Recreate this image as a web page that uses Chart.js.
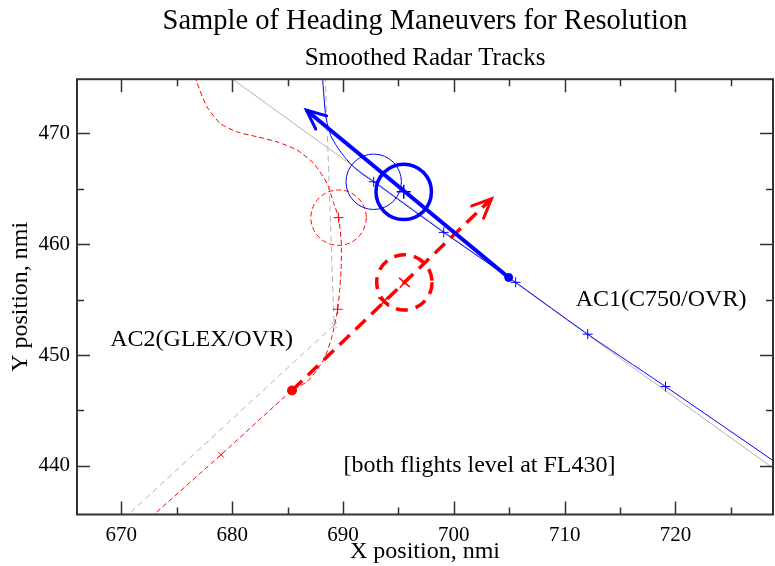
<!DOCTYPE html>
<html>
<head>
<meta charset="utf-8">
<script src="https://cdn.jsdelivr.net/npm/chart.js@4/dist/chart.umd.min.js"></script>
<style>
    body { margin: 0; background: #fff; }
    #graficoTrayectorias { display: block; }
</style>
</head>
<body>
<canvas id="graficoTrayectorias" width="775" height="566"></canvas>
<script>
// limites de los ejes (nmi)
const xMin = 666, xMax = 728.8;
const yMin = 435.6, yMax = 474.9;

// AC1 plan original (gris continuo)
const ac1PlanX = [679.9, 692.65, 729.2];
const ac1PlanY = [475.0, 465.8, 439.5];

// AC1 traza suavizada (azul fino)
const ac1TrazaX = [688.15, 688.45, 688.9, 689.47, 690.2, 690.94, 691.8, 692.77, 699.09, 705.58, 712.08, 719.1, 729.2];
const ac1TrazaY = [475.1, 471.5, 469.8, 468.8, 467.8, 466.99, 466.3, 465.64, 461.07, 456.56, 451.88, 447.15, 440.2];
const ac1MarcasX = [692.77, 699.09, 705.58, 712.08, 719.1];
const ac1MarcasY = [465.64, 461.07, 456.56, 451.88, 447.15];

// AC1 maniobra de resolucion (azul grueso)
const ac1ResX = [704.95, 686.7];
const ac1ResY = [457.0, 472.1];
const ac1CentroX = [695.48];
const ac1CentroY = [464.73];

// AC2 plan original (gris discontinuo)
const ac2PlanX = [688.4, 689.2, 670.2];
const ac2PlanY = [475.2, 452.7, 435.2];

// AC2 traza suavizada (rojo fino discontinuo)
const ac2TrazaX = [676.7, 676.82, 677.73, 678.93, 680.44, 682.25, 684.05, 685.86, 687.35, 688.56, 689.16, 689.6, 689.85, 689.83, 689.7, 689.52, 689.0, 688.4, 687.66, 686.76, 685.4, 679.0, 672.6];
const ac2TrazaY = [475.2, 474.6, 472.4, 470.9, 470.14, 469.7, 469.24, 468.5, 467.3, 465.5, 463.7, 462.4, 460.1, 457.7, 455.9, 454.13, 451.66, 449.86, 448.66, 447.6, 446.8, 441.0, 435.3];
const ac2MarcasX = [689.6, 689.52];
const ac2MarcasY = [462.4, 454.13];
const ac2AspaX = [679.0, 689.2];
const ac2AspaY = [441.0, 452.7];

// AC2 maniobra de resolucion (rojo grueso discontinuo)
const ac2ResX = [685.4, 703.4];
const ac2ResY = [446.8, 464.1];
const ac2ResMarcasX = [693.67, 695.54];
const ac2ResMarcasY = [454.8, 456.56];

// circulos de separacion
const circuloX = [692.77, 695.48, 689.6, 695.54];
const circuloY = [465.64, 464.73, 462.4, 456.56];
const circuloR = [2.5, 2.5, 2.5, 2.5];

// notas
const notaTexto = ['AC2(GLEX/OVR)', 'AC1(C750/OVR)', '[both flights level at FL430]'];
const notaX = [669.0, 711.0, 690.05];
const notaY = [451.4, 455.0, 440.0];

const AZUL = '#0000ff';
const ROJO = '#ff0000';
const GRIS = '#b4b4b4';
const FUENTE = "'Liberation Serif', 'DejaVu Serif', serif";

const puntos = (xs, ys) => xs.map((x, i) => ({x, y: ys[i]}));

const estiloCirculo = [
    {color: AZUL, ancho: 1, guion: []},
    {color: AZUL, ancho: 3.5, guion: []},
    {color: ROJO, ancho: 1, guion: [5, 3]},
    {color: ROJO, ancho: 3.5, guion: [12, 8]}
];

const decoracion = {
    id: 'decoracion',
    afterDatasetsDraw(chart) {
        const ctx = chart.ctx;
        const xs = chart.scales.x;
        const ys = chart.scales.y;
        const area = chart.chartArea;

        ctx.save();
        ctx.beginPath();
        ctx.rect(area.left, area.top, area.right - area.left, area.bottom - area.top);
        ctx.clip();

        // circulos
        circuloX.forEach((cx, i) => {
            const px = xs.getPixelForValue(cx);
            const py = ys.getPixelForValue(circuloY[i]);
            const r = Math.abs(xs.getPixelForValue(cx + circuloR[i]) - px);
            const est = estiloCirculo[i];
            ctx.beginPath();
            ctx.setLineDash(est.guion);
            ctx.lineWidth = est.ancho;
            ctx.strokeStyle = est.color;
            ctx.arc(px, py, r, 0, Math.PI * 2);
            ctx.stroke();
        });
        ctx.setLineDash([]);

        // puntas de flecha
        chart.data.datasets.forEach(ds => {
            if (!ds.punta) return;
            const n = ds.data.length;
            const a = ds.data[n - 2], b = ds.data[n - 1];
            const x1 = xs.getPixelForValue(a.x), y1 = ys.getPixelForValue(a.y);
            const x2 = xs.getPixelForValue(b.x), y2 = ys.getPixelForValue(b.y);
            const ang = Math.atan2(y2 - y1, x2 - x1);
            const largo = 21, abre = 0.42;
            ctx.beginPath();
            ctx.strokeStyle = ds.borderColor;
            ctx.lineWidth = 3;
            ctx.lineCap = 'round';
            ctx.moveTo(x2 - largo * Math.cos(ang - abre), y2 - largo * Math.sin(ang - abre));
            ctx.lineTo(x2, y2);
            ctx.lineTo(x2 - largo * Math.cos(ang + abre), y2 - largo * Math.sin(ang + abre));
            ctx.stroke();
        });
        ctx.restore();

        // notas
        ctx.save();
        ctx.fillStyle = '#000';
        ctx.font = '24px ' + FUENTE;
        ctx.textAlign = 'left';
        ctx.textBaseline = 'middle';
        notaTexto.forEach((t, i) => {
            ctx.fillText(t, xs.getPixelForValue(notaX[i]), ys.getPixelForValue(notaY[i]));
        });
        ctx.restore();
    },
    afterDraw(chart) {
        const ctx = chart.ctx;
        const xs = chart.scales.x;
        const ys = chart.scales.y;
        const {left, right, top, bottom} = chart.chartArea;

        ctx.save();
        ctx.strokeStyle = '#333';
        ctx.lineWidth = 2;
        ctx.strokeRect(left, top, right - left, bottom - top);

        // marcas hacia dentro en los cuatro lados
        ctx.lineWidth = 1.5;
        for (let v = Math.ceil(xMin / 5) * 5; v <= xMax; v += 5) {
            const p = Math.round(xs.getPixelForValue(v)) + 0.5;
            const l = v % 10 === 0 ? 13 : 7;
            ctx.beginPath();
            ctx.moveTo(p, bottom); ctx.lineTo(p, bottom - l);
            ctx.moveTo(p, top); ctx.lineTo(p, top + l);
            ctx.stroke();
        }
        for (let v = Math.ceil(yMin / 5) * 5; v <= yMax; v += 5) {
            const p = Math.round(ys.getPixelForValue(v)) + 0.5;
            const l = v % 10 === 0 ? 13 : 7;
            ctx.beginPath();
            ctx.moveTo(left, p); ctx.lineTo(left + l, p);
            ctx.moveTo(right, p); ctx.lineTo(right - l, p);
            ctx.stroke();
        }
        ctx.restore();
    }
};

window.addEventListener('load', () => {
    const lienzo = document.querySelector('#graficoTrayectorias');

    const datasets = [
        // marcas (encima)
        {data: puntos(ac1CentroX, ac1CentroY), showLine: false, pointStyle: 'cross', pointRadius: 7, borderColor: AZUL, borderWidth: 1.5},
        {data: puntos([ac1ResX[0]], [ac1ResY[0]]), showLine: false, pointStyle: 'circle', pointRadius: 4, backgroundColor: AZUL, borderColor: AZUL},
        {data: puntos(ac1MarcasX, ac1MarcasY), showLine: false, pointStyle: 'cross', pointRadius: 5, borderColor: AZUL, borderWidth: 1},
        {data: puntos(ac2ResMarcasX, ac2ResMarcasY), showLine: false, pointStyle: 'cross', rotation: 40, pointRadius: 7, borderColor: ROJO, borderWidth: 1.5},
        {data: puntos([ac2ResX[0]], [ac2ResY[0]]), showLine: false, pointStyle: 'circle', pointRadius: 4.5, backgroundColor: ROJO, borderColor: ROJO},
        {data: puntos(ac2MarcasX, ac2MarcasY), showLine: false, pointStyle: 'cross', pointRadius: 5, borderColor: ROJO, borderWidth: 1},
        {data: puntos(ac2AspaX.slice(0, 1), ac2AspaY.slice(0, 1)), showLine: false, pointStyle: 'crossRot', pointRadius: 4, borderColor: ROJO, borderWidth: 1},
        {data: puntos(ac2AspaX.slice(1), ac2AspaY.slice(1)), showLine: false, pointStyle: 'crossRot', pointRadius: 4, borderColor: GRIS, borderWidth: 1},
        // maniobras
        {data: puntos(ac1ResX, ac1ResY), showLine: true, borderColor: AZUL, borderWidth: 4, pointRadius: 0, punta: true},
        {data: puntos(ac2ResX, ac2ResY), showLine: true, borderColor: ROJO, borderWidth: 3.5, borderDash: [14, 8], pointRadius: 0, punta: true},
        // trazas
        {data: puntos(ac1TrazaX, ac1TrazaY), showLine: true, borderColor: AZUL, borderWidth: 1, pointRadius: 0, tension: 0.2},
        {data: puntos(ac2TrazaX, ac2TrazaY), showLine: true, borderColor: ROJO, borderWidth: 1, borderDash: [5, 3], pointRadius: 0, tension: 0.2},
        // planes originales
        {data: puntos(ac2PlanX, ac2PlanY), showLine: true, borderColor: GRIS, borderWidth: 1, borderDash: [6, 4], pointRadius: 0},
        {data: puntos(ac1PlanX, ac1PlanY), showLine: true, borderColor: GRIS, borderWidth: 1, pointRadius: 0}
    ];

    new Chart(lienzo, {
        type: 'scatter',
        data: {datasets},
        options: {
            responsive: false,
            animation: false,
            layout: {autoPadding: false, padding: {left: 0, right: 2, top: 0, bottom: 0}},
            plugins: {
                legend: {display: false},
                tooltip: {enabled: false},
                title: {
                    display: true,
                    fullSize: false,
                    text: 'Sample of Heading Maneuvers for Resolution',
                    color: '#000',
                    font: {family: FUENTE, size: 28.5, weight: 'normal', lineHeight: 1.2},
                    padding: {top: 4, bottom: 0}
                },
                subtitle: {
                    display: true,
                    fullSize: false,
                    text: 'Smoothed Radar Tracks',
                    color: '#000',
                    font: {family: FUENTE, size: 25, weight: 'normal', lineHeight: 1.2},
                    padding: {top: 5, bottom: 6}
                }
            },
            scales: {
                x: {
                    type: 'linear',
                    min: xMin,
                    max: xMax,
                    grid: {display: false, drawTicks: false},
                    border: {display: false},
                    ticks: {stepSize: 10, includeBounds: false, padding: 8, color: '#000', font: {family: FUENTE, size: 21}},
                    title: {display: true, text: 'X position, nmi', color: '#000', font: {family: FUENTE, size: 24}, padding: {top: 0, bottom: 0}},
                    afterFit: s => { s.height = 51.5; s.paddingLeft = 0; s.paddingRight = 0; }
                },
                y: {
                    type: 'linear',
                    min: yMin,
                    max: yMax,
                    grid: {display: false, drawTicks: false},
                    border: {display: false},
                    ticks: {stepSize: 10, includeBounds: false, padding: 7, color: '#000', font: {family: FUENTE, size: 21}},
                    title: {display: true, text: 'Y position, nmi', color: '#000', font: {family: FUENTE, size: 24}, padding: {top: 6, bottom: 0}},
                    afterFit: s => { s.width = 77; s.paddingTop = 0; s.paddingBottom = 0; }
                }
            }
        },
        plugins: [decoracion]
    });
});
</script>
</body>
</html>
